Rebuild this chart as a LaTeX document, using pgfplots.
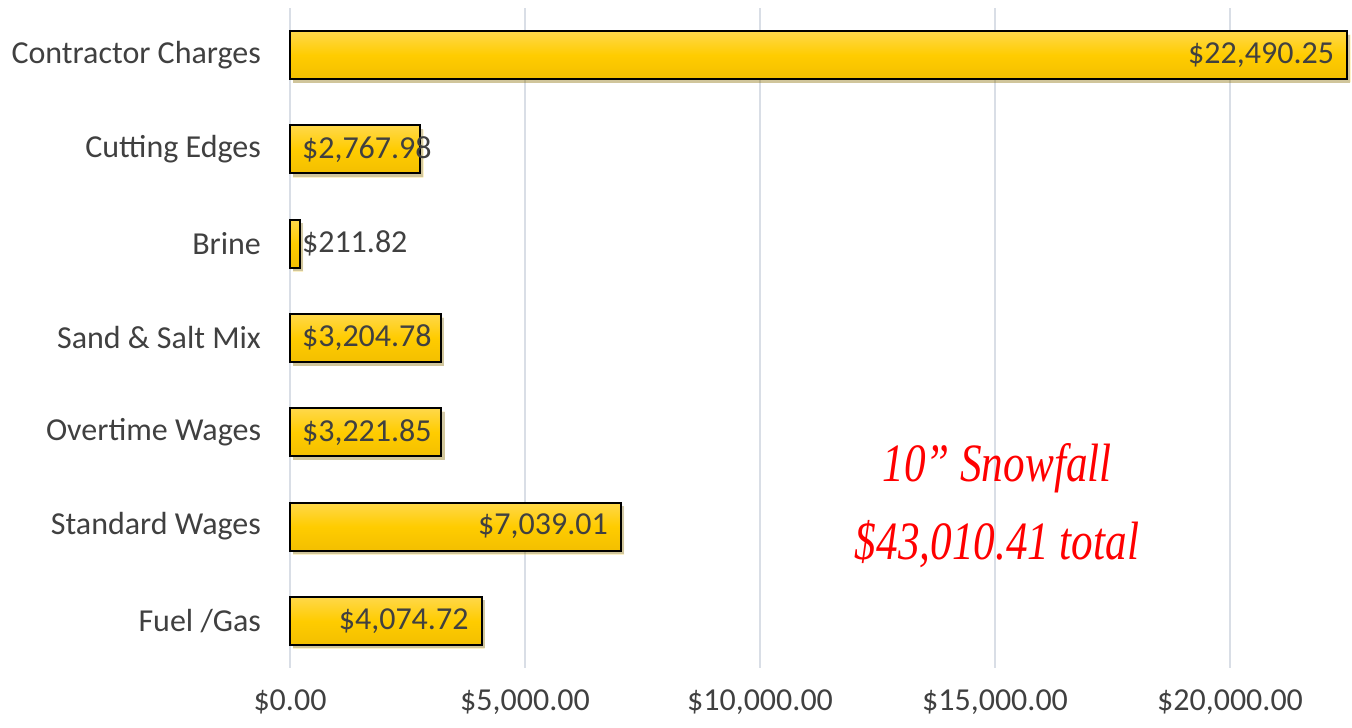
\documentclass[border=0pt]{standalone}
\usepackage{fontspec}
\setmainfont{Carlito}
\newfontfamily\redfont[FakeStretch=0.8]{Liberation Serif}
\usepackage{pgfplots}
\pgfplotsset{compat=1.18}
\usepackage{pgfplotstable}
\definecolor{txt}{HTML}{404040}
\definecolor{gridc}{HTML}{D9DEE6}
\definecolor{bartop}{HTML}{FFD84A}
\definecolor{barmid}{HTML}{FFCC00}
\definecolor{barbot}{HTML}{F3BF00}

% labels placed inside the bar end
\pgfplotstableread{
y x label
0 4074.72 {\$4,074.72}
1 7039.01 {\$7,039.01}
6 22490.25 {\$22,490.25}
}\labA

% labels placed from the start of the bar
\pgfplotstableread{
y x label
2 0 {\$3,221.85}
3 0 {\$3,204.78}
4 0 {\$211.82}
5 0 {\$2,767.98}
}\labB

\pgfplotsset{goldbar/.style={xbar, bar width=24pt, bar shift=0pt, draw=black, line width=1pt,
  top color=bartop, bottom color=barbot, middle color=barmid,
  preaction={fill=black, fill opacity=0.22, draw=none, transform canvas={xshift=1.6pt, yshift=-1.8pt}}}}

\begin{document}
\begin{tikzpicture}
\begin{axis}[
  scale only axis, width=530pt, height=330pt,
  xmin=0, xmax=22553, ymin=-0.5, ymax=6.5,
  axis line style={draw=none},
  xmajorgrids, major grid style={gridc, line width=0.9pt},
  xtick={0,5000,10000,15000,20000},
  xticklabels={{\$0.00},{\$5,000.00},{\$10,000.00},{\$15,000.00},{\$20,000.00}},
  ytick={0,1,2,3,4,5,6},
  yticklabels={{Fuel /Gas\ },{Standard Wages},{Overtime Wages},{Sand \& Salt Mix},{Brine},{Cutting Edges},{Contractor Charges}},
  major tick length=0pt,
  tick label style={font=\fontsize{16}{18}\selectfont, text=txt},
  yticklabel style={xshift=-11pt},
  xticklabel style={inner sep=0.5pt, yshift=-10.3pt},
  clip=false,
]
\addplot[goldbar] coordinates {(4074.72,0)};
\addplot[goldbar] coordinates {(7039.01,1)};
\addplot[goldbar] coordinates {(3221.85,2)};
\addplot[goldbar] coordinates {(3204.78,3)};
\addplot[goldbar] coordinates {(211.82,4)};
\addplot[goldbar] coordinates {(2767.98,5)};
\addplot[goldbar] coordinates {(22490.25,6)};
\addplot[only marks, mark=none, point meta=explicit symbolic, nodes near coords,
  nodes near coords style={anchor=east, xshift=-3pt, text=txt, font=\fontsize{16}{18}\selectfont}]
  table[x=x, y=y, meta=label] {\labA};
\addplot[only marks, mark=none, point meta=explicit symbolic, nodes near coords,
  nodes near coords style={anchor=west, xshift=2.5pt, text=txt, font=\fontsize{16}{18}\selectfont}]
  table[x=x, y=y, meta=label] {\labB};
\node[text=red, font=\redfont\itshape\fontsize{27}{30}\selectfont] at (axis cs:15043,1.62) {10” Snowfall};
\node[text=red, font=\redfont\itshape\fontsize{27}{30}\selectfont] at (axis cs:15043,0.81) {\$43,010.41 total};
\end{axis}
\pgfresetboundingbox
\path[use as bounding box] ([shift={(-145pt,-30pt)}]current axis.south west) rectangle ([shift={(1pt,4pt)}]current axis.north east);
\end{tikzpicture}
\end{document}
